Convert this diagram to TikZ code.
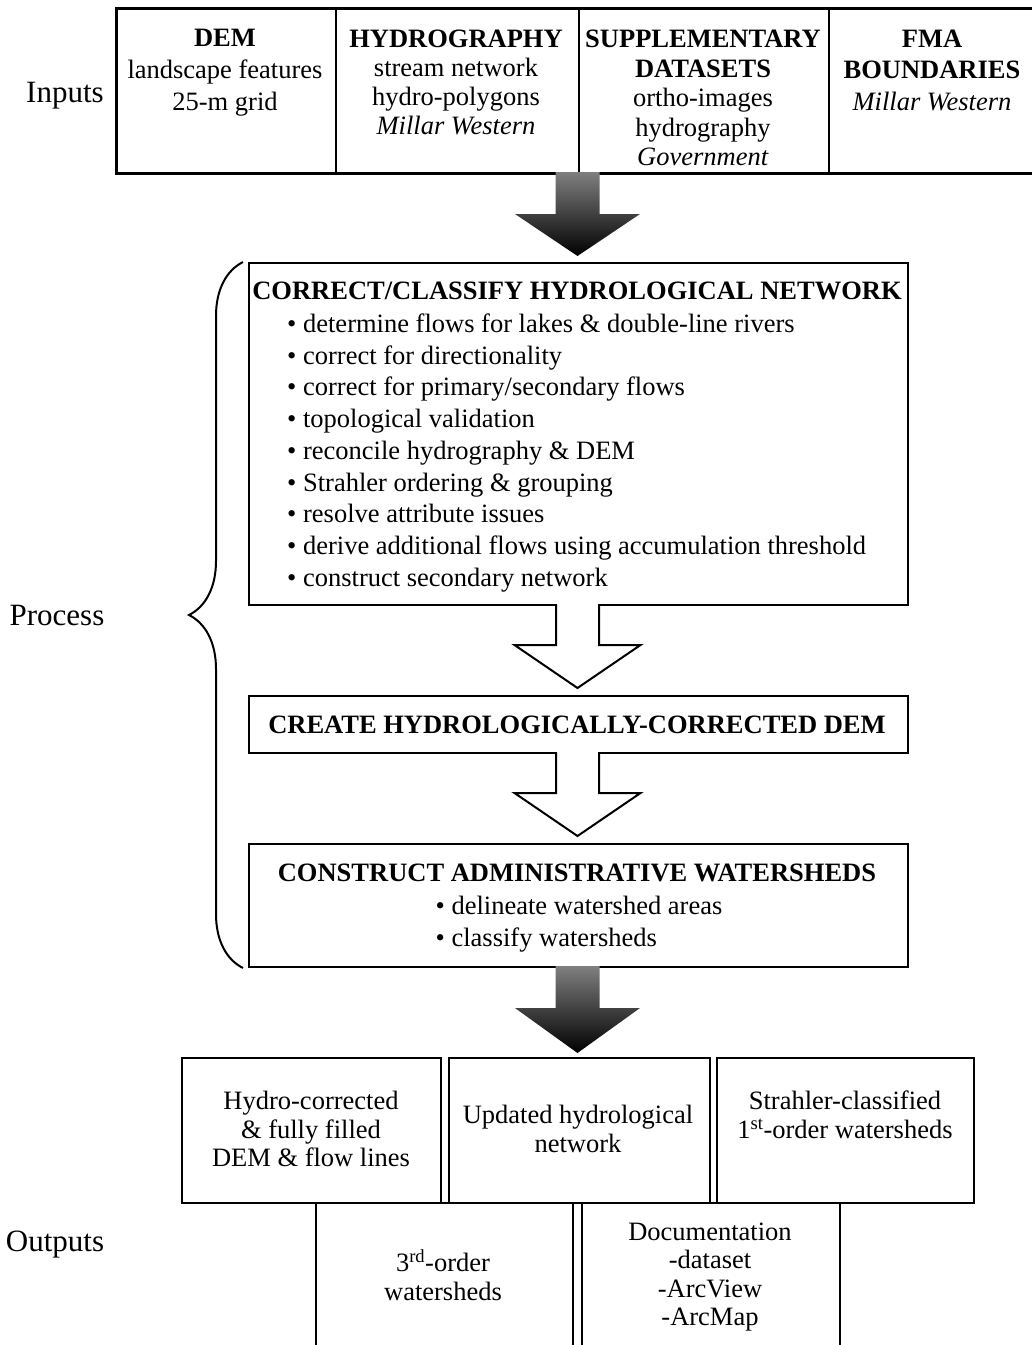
\documentclass[tikz,border=0pt]{standalone}
\usepackage{fontspec}
\setmainfont{Liberation Serif}
\usetikzlibrary{decorations.pathreplacing}
\tikzset{
  frame/.style={draw, line width=2pt, inner sep=0pt, anchor=north west},
  txt/.style={font=\fontsize{26.5}{30}\selectfont, align=center, inner sep=0pt},
  lbl/.style={font=\fontsize{31}{34}\selectfont, inner sep=0pt},
  pics/solidarrow/.style 2 args={code={
    \shade[top color=black!50, bottom color=black]
      (-22,0) -- (-22,#1) -- (-62.5,#1) -- (0,#2) -- (62.5,#1) -- (22,#1) -- (22,0) -- cycle;}},
  pics/openarrow/.style 2 args={code={
    \filldraw[fill=white, line width=2pt, line join=miter]
      (-21.5,0) -- (-21.5,#1) -- (-63,#1) -- (0,#2) -- (63,#1) -- (21.5,#1) -- (21.5,0);}}
}
\begin{document}
\begin{tikzpicture}[x=1pt,y=-1pt]
\useasboundingbox (0,0) rectangle (1032,1345);

% ---------- Inputs ----------
\node[frame, minimum width=219pt, minimum height=164pt] (dem) at (116,8) {};
\node[frame, minimum width=243pt, minimum height=164pt] (hyd) at (335,8) {};
\node[frame, minimum width=250pt, minimum height=164pt] (sup) at (578,8) {};
\node[frame, minimum width=210pt, minimum height=164pt] (fma) at (828,8) {};
\draw[line width=2.5pt] (dem.north west) rectangle (fma.south east);

\node[txt, font=\fontsize{26.5}{32}\selectfont] (demt) at (225,73)
  {\textbf{DEM}\\landscape features\\25-m grid};
\node[txt, font=\fontsize{26.5}{29}\selectfont] (hydt) at (456,82)
  {\textbf{HYDROGRAPHY}\\stream network\\hydro-polygons\\\textit{Millar Western}};
\node[txt, font=\fontsize{26.5}{29.5}\selectfont] (supt) at (703,98)
  {\textbf{SUPPLEMENTARY}\\\textbf{DATASETS}\\ortho-images\\hydrography\\\textit{Government}};
\node[txt, font=\fontsize{26.5}{31.5}\selectfont] (fmat) at (932,70)
  {\textbf{FMA}\\\textbf{BOUNDARIES}\\\textit{Millar Western}};

\node[lbl] (inputs) at (65,96) {Inputs};

% ---------- Process ----------
\node[frame, minimum width=659pt, minimum height=342pt] (p1) at (248,262) {};
\node[frame, minimum width=659pt, minimum height=57pt] (p2) at (248,695) {};
\node[frame, minimum width=659pt, minimum height=123pt] (p3) at (248,843) {};

\node[txt] (p1t) at (577,291) {\textbf{CORRECT/CLASSIFY HYDROLOGICAL NETWORK}};
\node[txt, align=left, anchor=west, font=\fontsize{26.5}{31.75}\selectfont] (p1b) at (287,453)
  {• determine flows for lakes \& double-line rivers\\
   • correct for directionality\\
   • correct for primary/secondary flows\\
   • topological validation\\
   • reconcile hydrography \& DEM\\
   • Strahler ordering \& grouping\\
   • resolve attribute issues\\
   • derive additional flows using accumulation threshold\\
   • construct secondary network};
\node[txt] (p2t) at (577,725) {\textbf{CREATE HYDROLOGICALLY-CORRECTED DEM}};
\node[txt] (p3t) at (577,873) {\textbf{CONSTRUCT ADMINISTRATIVE WATERSHEDS}};
\node[txt, align=left, font=\fontsize{26.5}{32}\selectfont] (p3b) at (579,924)
  {• delineate watershed areas\\• classify watersheds};

\draw[decorate, decoration={brace, amplitude=54pt}, line width=2pt]
  (p3.south west) ++(-5,0) coordinate (bb) -- (bb |- p1.north west);
\node[lbl] (process) at (57,615) {Process};

% ---------- arrows ----------
\pic at (577.5,172) {solidarrow={42}{84}};
\pic at (577.5,604) {openarrow={41}{84}};
\pic at (577.5,752) {openarrow={41}{84}};
\pic at (577.5,966) {solidarrow={42}{87}};

% ---------- Outputs ----------
\node[frame, minimum width=259pt, minimum height=145pt] (o1) at (181,1057) {};
\node[frame, minimum width=261pt, minimum height=145pt] (o2) at (448,1057) {};
\node[frame, minimum width=257pt, minimum height=145pt] (o3) at (716,1057) {};
\node[frame, minimum width=257pt, minimum height=170pt] (o4) at (315,1202) {};
\node[frame, minimum width=258pt, minimum height=170pt] (o5) at (581,1202) {};

\node[txt, font=\fontsize{26.5}{28.5}\selectfont] (o1t) at (311,1129)
  {Hydro-corrected\\\& fully filled\\DEM \& flow lines};
\node[txt, font=\fontsize{26.5}{28.5}\selectfont] (o2t) at (578,1129)
  {Updated hydrological\\network};
\node[txt, font=\fontsize{26.5}{28.5}\selectfont] (o3t) at (845,1115)
  {Strahler-classified\\1\textsuperscript{st}-order watersheds};
\node[txt, font=\fontsize{26.5}{28.5}\selectfont] (o4t) at (443,1275)
  {3\textsuperscript{rd}-order\\watersheds};
\node[txt, font=\fontsize{26.5}{28.5}\selectfont] (o5t) at (710,1277)
  {Documentation\\-dataset\\-ArcView\\-ArcMap};

\node[lbl] (outputs) at (55,1245) {Outputs};
\end{tikzpicture}
\end{document}
